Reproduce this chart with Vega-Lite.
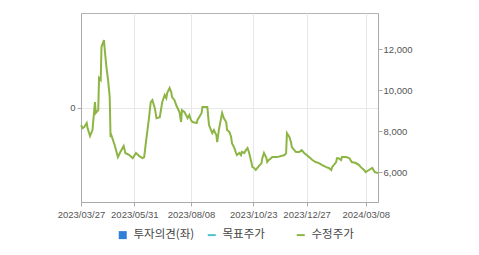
{
  "$schema": "https://vega.github.io/schema/vega-lite/v6.json",
  "width": 297,
  "height": 189,
  "autosize": "none",
  "padding": {"left": 81, "top": 13, "right": 101, "bottom": 53},
  "background": "#ffffff",
  "config": {
    "view": {"stroke": "#b4b4b4", "strokeWidth": 1},
    "axis": {"labelFont": "Liberation Sans", "labelFontSize": 9.5, "labelColor": "#555555", "domainColor": "#aaaaaa", "tickColor": "#aaaaaa", "gridColor": "#e8e8e8", "title": null}
  },
  "data": {"values": [
    {"date": "2023-03-27", "series": "수정주가", "price": 8290},
    {"date": "2023-03-29", "series": "수정주가", "price": 8150},
    {"date": "2023-03-31", "series": "수정주가", "price": 8200},
    {"date": "2023-04-03", "series": "수정주가", "price": 8390},
    {"date": "2023-04-04", "series": "수정주가", "price": 8150},
    {"date": "2023-04-07", "series": "수정주가", "price": 7760},
    {"date": "2023-04-10", "series": "수정주가", "price": 8050},
    {"date": "2023-04-13", "series": "수정주가", "price": 9410},
    {"date": "2023-04-14", "series": "수정주가", "price": 8880},
    {"date": "2023-04-17", "series": "수정주가", "price": 9020},
    {"date": "2023-04-18", "series": "수정주가", "price": 10590},
    {"date": "2023-04-20", "series": "수정주가", "price": 10490},
    {"date": "2023-04-21", "series": "수정주가", "price": 12100},
    {"date": "2023-04-24", "series": "수정주가", "price": 12440},
    {"date": "2023-04-25", "series": "수정주가", "price": 11950},
    {"date": "2023-04-27", "series": "수정주가", "price": 11120},
    {"date": "2023-04-29", "series": "수정주가", "price": 10490},
    {"date": "2023-05-01", "series": "수정주가", "price": 9660},
    {"date": "2023-05-02", "series": "수정주가", "price": 7710},
    {"date": "2023-05-03", "series": "수정주가", "price": 7800},
    {"date": "2023-05-07", "series": "수정주가", "price": 7320},
    {"date": "2023-05-11", "series": "수정주가", "price": 6730},
    {"date": "2023-05-14", "series": "수정주가", "price": 6980},
    {"date": "2023-05-18", "series": "수정주가", "price": 7270},
    {"date": "2023-05-20", "series": "수정주가", "price": 6930},
    {"date": "2023-05-25", "series": "수정주가", "price": 6830},
    {"date": "2023-05-29", "series": "수정주가", "price": 6680},
    {"date": "2023-06-02", "series": "수정주가", "price": 6930},
    {"date": "2023-06-06", "series": "수정주가", "price": 6780},
    {"date": "2023-06-10", "series": "수정주가", "price": 6680},
    {"date": "2023-06-12", "series": "수정주가", "price": 6730},
    {"date": "2023-06-14", "series": "수정주가", "price": 7410},
    {"date": "2023-06-16", "series": "수정주가", "price": 8050},
    {"date": "2023-06-18", "series": "수정주가", "price": 8680},
    {"date": "2023-06-20", "series": "수정주가", "price": 9410},
    {"date": "2023-06-22", "series": "수정주가", "price": 9510},
    {"date": "2023-06-25", "series": "수정주가", "price": 9120},
    {"date": "2023-06-27", "series": "수정주가", "price": 8630},
    {"date": "2023-07-01", "series": "수정주가", "price": 8680},
    {"date": "2023-07-04", "series": "수정주가", "price": 9410},
    {"date": "2023-07-07", "series": "수정주가", "price": 9760},
    {"date": "2023-07-09", "series": "수정주가", "price": 9610},
    {"date": "2023-07-10", "series": "수정주가", "price": 9850},
    {"date": "2023-07-13", "series": "수정주가", "price": 10100},
    {"date": "2023-07-15", "series": "수정주가", "price": 9900},
    {"date": "2023-07-16", "series": "수정주가", "price": 9660},
    {"date": "2023-07-19", "series": "수정주가", "price": 9510},
    {"date": "2023-07-21", "series": "수정주가", "price": 9270},
    {"date": "2023-07-25", "series": "수정주가", "price": 8930},
    {"date": "2023-07-27", "series": "수정주가", "price": 8440},
    {"date": "2023-07-28", "series": "수정주가", "price": 9020},
    {"date": "2023-07-31", "series": "수정주가", "price": 8930},
    {"date": "2023-08-02", "series": "수정주가", "price": 8780},
    {"date": "2023-08-04", "series": "수정주가", "price": 8630},
    {"date": "2023-08-06", "series": "수정주가", "price": 8780},
    {"date": "2023-08-08", "series": "수정주가", "price": 8540},
    {"date": "2023-08-10", "series": "수정주가", "price": 8440},
    {"date": "2023-08-15", "series": "수정주가", "price": 8390},
    {"date": "2023-08-16", "series": "수정주가", "price": 8540},
    {"date": "2023-08-18", "series": "수정주가", "price": 8680},
    {"date": "2023-08-21", "series": "수정주가", "price": 8880},
    {"date": "2023-08-22", "series": "수정주가", "price": 9170},
    {"date": "2023-08-27", "series": "수정주가", "price": 9170},
    {"date": "2023-08-28", "series": "수정주가", "price": 9170},
    {"date": "2023-08-30", "series": "수정주가", "price": 8290},
    {"date": "2023-09-03", "series": "수정주가", "price": 7900},
    {"date": "2023-09-05", "series": "수정주가", "price": 8050},
    {"date": "2023-09-08", "series": "수정주가", "price": 7800},
    {"date": "2023-09-09", "series": "수정주가", "price": 7460},
    {"date": "2023-09-11", "series": "수정주가", "price": 8050},
    {"date": "2023-09-14", "series": "수정주가", "price": 8680},
    {"date": "2023-09-15", "series": "수정주가", "price": 8880},
    {"date": "2023-09-17", "series": "수정주가", "price": 8630},
    {"date": "2023-09-20", "series": "수정주가", "price": 8440},
    {"date": "2023-09-21", "series": "수정주가", "price": 8050},
    {"date": "2023-09-24", "series": "수정주가", "price": 7950},
    {"date": "2023-09-26", "series": "수정주가", "price": 7710},
    {"date": "2023-09-27", "series": "수정주가", "price": 7410},
    {"date": "2023-09-30", "series": "수정주가", "price": 7170},
    {"date": "2023-10-02", "series": "수정주가", "price": 6930},
    {"date": "2023-10-03", "series": "수정주가", "price": 6830},
    {"date": "2023-10-06", "series": "수정주가", "price": 6930},
    {"date": "2023-10-08", "series": "수정주가", "price": 6830},
    {"date": "2023-10-09", "series": "수정주가", "price": 6980},
    {"date": "2023-10-12", "series": "수정주가", "price": 6930},
    {"date": "2023-10-14", "series": "수정주가", "price": 7070},
    {"date": "2023-10-16", "series": "수정주가", "price": 7170},
    {"date": "2023-10-18", "series": "수정주가", "price": 6930},
    {"date": "2023-10-20", "series": "수정주가", "price": 6590},
    {"date": "2023-10-22", "series": "수정주가", "price": 6240},
    {"date": "2023-10-24", "series": "수정주가", "price": 6200},
    {"date": "2023-10-26", "series": "수정주가", "price": 6100},
    {"date": "2023-10-28", "series": "수정주가", "price": 6200},
    {"date": "2023-11-02", "series": "수정주가", "price": 6440},
    {"date": "2023-11-03", "series": "수정주가", "price": 6680},
    {"date": "2023-11-05", "series": "수정주가", "price": 6930},
    {"date": "2023-11-08", "series": "수정주가", "price": 6680},
    {"date": "2023-11-09", "series": "수정주가", "price": 6490},
    {"date": "2023-11-11", "series": "수정주가", "price": 6590},
    {"date": "2023-11-14", "series": "수정주가", "price": 6680},
    {"date": "2023-11-15", "series": "수정주가", "price": 6730},
    {"date": "2023-11-17", "series": "수정주가", "price": 6730},
    {"date": "2023-11-21", "series": "수정주가", "price": 6730},
    {"date": "2023-11-26", "series": "수정주가", "price": 6780},
    {"date": "2023-11-30", "series": "수정주가", "price": 6830},
    {"date": "2023-12-02", "series": "수정주가", "price": 6930},
    {"date": "2023-12-03", "series": "수정주가", "price": 7900},
    {"date": "2023-12-06", "series": "수정주가", "price": 7710},
    {"date": "2023-12-08", "series": "수정주가", "price": 7460},
    {"date": "2023-12-09", "series": "수정주가", "price": 7220},
    {"date": "2023-12-12", "series": "수정주가", "price": 7070},
    {"date": "2023-12-14", "series": "수정주가", "price": 6980},
    {"date": "2023-12-18", "series": "수정주가", "price": 6980},
    {"date": "2023-12-21", "series": "수정주가", "price": 7070},
    {"date": "2023-12-24", "series": "수정주가", "price": 6930},
    {"date": "2023-12-27", "series": "수정주가", "price": 6830},
    {"date": "2023-12-30", "series": "수정주가", "price": 6730},
    {"date": "2024-01-03", "series": "수정주가", "price": 6590},
    {"date": "2024-01-07", "series": "수정주가", "price": 6490},
    {"date": "2024-01-11", "series": "수정주가", "price": 6440},
    {"date": "2024-01-15", "series": "수정주가", "price": 6340},
    {"date": "2024-01-20", "series": "수정주가", "price": 6240},
    {"date": "2024-01-23", "series": "수정주가", "price": 6200},
    {"date": "2024-01-26", "series": "수정주가", "price": 6100},
    {"date": "2024-01-27", "series": "수정주가", "price": 6240},
    {"date": "2024-02-01", "series": "수정주가", "price": 6490},
    {"date": "2024-02-02", "series": "수정주가", "price": 6680},
    {"date": "2024-02-04", "series": "수정주가", "price": 6680},
    {"date": "2024-02-07", "series": "수정주가", "price": 6590},
    {"date": "2024-02-08", "series": "수정주가", "price": 6730},
    {"date": "2024-02-13", "series": "수정주가", "price": 6730},
    {"date": "2024-02-17", "series": "수정주가", "price": 6680},
    {"date": "2024-02-20", "series": "수정주가", "price": 6490},
    {"date": "2024-02-25", "series": "수정주가", "price": 6440},
    {"date": "2024-02-29", "series": "수정주가", "price": 6340},
    {"date": "2024-03-02", "series": "수정주가", "price": 6240},
    {"date": "2024-03-06", "series": "수정주가", "price": 6100},
    {"date": "2024-03-08", "series": "수정주가", "price": 6000},
    {"date": "2024-03-12", "series": "수정주가", "price": 6100},
    {"date": "2024-03-16", "series": "수정주가", "price": 6200},
    {"date": "2024-03-19", "series": "수정주가", "price": 6000},
    {"date": "2024-03-23", "series": "수정주가", "price": 5950}
  ]},
  "encoding": {
    "x": {
      "field": "date",
      "type": "temporal",
      "scale": {"type": "utc", "domain": [{"year": 2023, "month": 3, "date": 27, "utc": true}, {"year": 2024, "month": 3, "date": 23, "utc": true}]},
      "axis": {
        "values": [
          {"year": 2023, "month": 3, "date": 27, "utc": true},
          {"year": 2023, "month": 5, "date": 31, "utc": true},
          {"year": 2023, "month": 8, "date": 8, "utc": true},
          {"year": 2023, "month": 10, "date": 23, "utc": true},
          {"year": 2023, "month": 12, "date": 27, "utc": true},
          {"year": 2024, "month": 3, "date": 8, "utc": true}
        ],
        "labelExpr": "utcFormat(datum.value, '%Y/%m/%d')",
        "grid": true,
        "tickSize": 4,
        "labelPadding": 3,
        "labelFlush": false,
        "labelOverlap": false
      }
    }
  },
  "layer": [
    {
      "mark": {"type": "point", "opacity": 0},
      "encoding": {
        "y": {
          "datum": 0,
          "type": "quantitative",
          "scale": {"domain": [-1, 1], "nice": false},
          "axis": {"orient": "left", "values": [0], "grid": true, "tickSize": 4, "labelPadding": 2, "domain": true}
        }
      }
    },
    {
      "mark": {"type": "line", "strokeWidth": 2, "interpolate": "linear"},
      "encoding": {
        "y": {
          "field": "price",
          "type": "quantitative",
          "scale": {"domain": [4540, 13760], "nice": false, "zero": false},
          "axis": {"orient": "right", "values": [6000, 8000, 10000, 12000], "format": ",d", "grid": false, "tickSize": 4, "labelPadding": 1}
        },
        "color": {
          "field": "series",
          "type": "nominal",
          "scale": {"domain": ["투자의견(좌)", "목표주가", "수정주가"], "range": ["#2f7ed8", "#4cc3cc", "#8db544"]},
          "legend": {
            "orient": "none",
            "legendX": 36,
            "legendY": 216,
            "direction": "horizontal",
            "title": null,
            "labelFont": "Noto Sans CJK KR",
            "labelFontSize": 11.5,
            "labelColor": "#444444",
            "symbolSize": 64,
            "symbolStrokeWidth": 2,
            "gridAlign": "all",
            "columnPadding": 8,
            "labelOffset": 5,
            "encode": {
              "symbols": {
                "update": {
                  "shape": {"signal": "datum.value === '투자의견(좌)' ? 'square' : 'stroke'"},
                  "fill": {"signal": "datum.value === '투자의견(좌)' ? '#2f7ed8' : 'transparent'"},
                  "strokeWidth": {"signal": "datum.value === '투자의견(좌)' ? 0 : 2"}
                }
              }
            }
          }
        }
      }
    }
  ],
  "resolve": {"scale": {"y": "independent"}}
}
